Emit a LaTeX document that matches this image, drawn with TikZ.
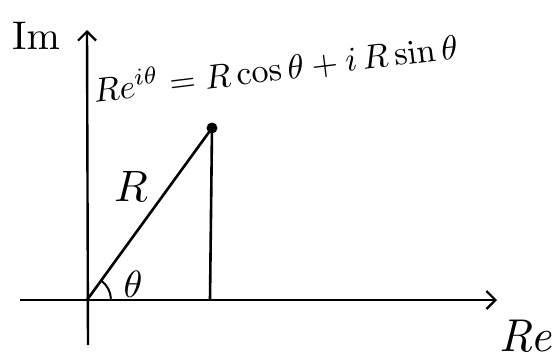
\documentclass[tikz,border=0pt]{standalone}
\usepackage{graphicx}
\usetikzlibrary{arrows.meta,calc}
\begin{document}
\begin{tikzpicture}[x=1pt,y=-1pt,
  axis/.style={line width=2.4pt,-{Straight Barb[length=9pt,width=18pt,line width=2.2pt]}},
  seg/.style={line width=2.6pt},
  lbl/.style={inner sep=0pt}]
\useasboundingbox (0,0) rectangle (558,362);
% axes
\coordinate (ybot) at (88,345);
\coordinate (ytop) at (87,30);
\coordinate (xl) at (20,300);
\coordinate (xr) at (497,300);
\coordinate (O) at (87,300);
\coordinate (P) at (212,128);
\coordinate (F) at (210,300);
\draw[axis] (ybot) -- (ytop);
\draw[axis] (xl) -- (xr);
% radius and dropline
\draw[seg] (O) -- (P);
\draw[seg] (P) -- (F);
\fill (P) circle (5.5pt);
% angle arc
\draw[line width=2pt] ($(O)+(-54:24)$) arc[start angle=-54,end angle=-3,radius=24];
% labels
\node[lbl] (im) at (36,36) {\scalebox{4}{$\mathrm{Im}$}};
\node[lbl,anchor=east] (re) at (555,336) {\scalebox{4.6}{$\mathit{Re}$}};
\node[lbl] (th) at (133,284) {\scalebox{3.8}{$\theta$}};
\node[lbl] (r) at (131,186) {\scalebox{4.4}{$R$}};
\node[lbl,rotate=7,anchor=west] (eq) at (93,90)
  {\scalebox{3.4}{$Re^{i\theta} = R\cos\theta + i\,R\sin\theta$}};
\end{tikzpicture}
\end{document}
